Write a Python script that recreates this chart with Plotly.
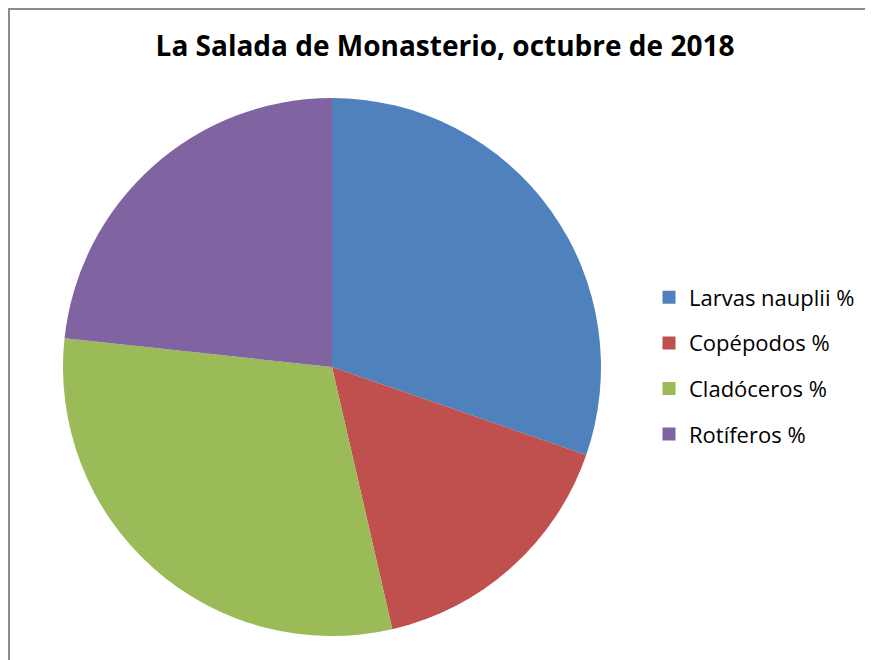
import plotly.graph_objects as go

W, H = 873, 660

title_text = "La Salada de Monasterio, octubre de 2018"
labels = ["Larvas nauplii %", "Copépodos %", "Cladóceros %", "Rotíferos %"]
values = [30.3, 16.1, 30.3, 23.3]
colors = ["#4F81BD", "#C0504D", "#9BBB59", "#8064A2"]

# pie geometry in pixels (figure coordinates)
cx, cy, r = 324, 359, 269

fig = go.Figure()
fig.add_trace(go.Pie(
    labels=labels, values=values, sort=False, direction="clockwise",
    rotation=0, textinfo="none", hoverinfo="label+value",
    marker=dict(colors=colors, line=dict(width=0)),
    showlegend=False,
    domain=dict(x=[(cx - r) / W, (cx + r) / W], y=[1 - (cy + r) / H, 1 - (cy - r) / H]),
))

# legend entries (one per category, spaced like the original)
for i, (lab, col) in enumerate(zip(labels, colors)):
    fig.add_trace(go.Scatter(
        x=[None], y=[None], mode="markers", name=lab,
        marker=dict(symbol="square", size=13, color=col),
        legendgroup="g%d" % i, showlegend=True,
    ))

fig.update_layout(
    width=W, height=H,
    margin=dict(l=0, r=0, t=0, b=0),
    paper_bgcolor="white", plot_bgcolor="white",
    xaxis=dict(visible=False), yaxis=dict(visible=False),
    title=dict(text="<b>%s</b>" % title_text, x=437 / W, xanchor="center",
               y=1 - 38 / H, yanchor="middle", yref="container",
               font=dict(family="Open Sans", size=28, color="black")),
    legend=dict(x=641 / W, xanchor="left", y=1 - 358 / H, yanchor="middle",
                font=dict(family="Open Sans", size=22, color="black"),
                tracegroupgap=14, itemwidth=30, bgcolor="rgba(0,0,0,0)"),
    shapes=[dict(type="rect", xref="paper", yref="paper",
                 x0=1 / W, x1=1.02, y0=-0.02, y1=1 - 1 / H,
                 line=dict(color="#8c8c8c", width=2), fillcolor="rgba(0,0,0,0)",
                 layer="below")],
)

fig.write_html("out.html")
